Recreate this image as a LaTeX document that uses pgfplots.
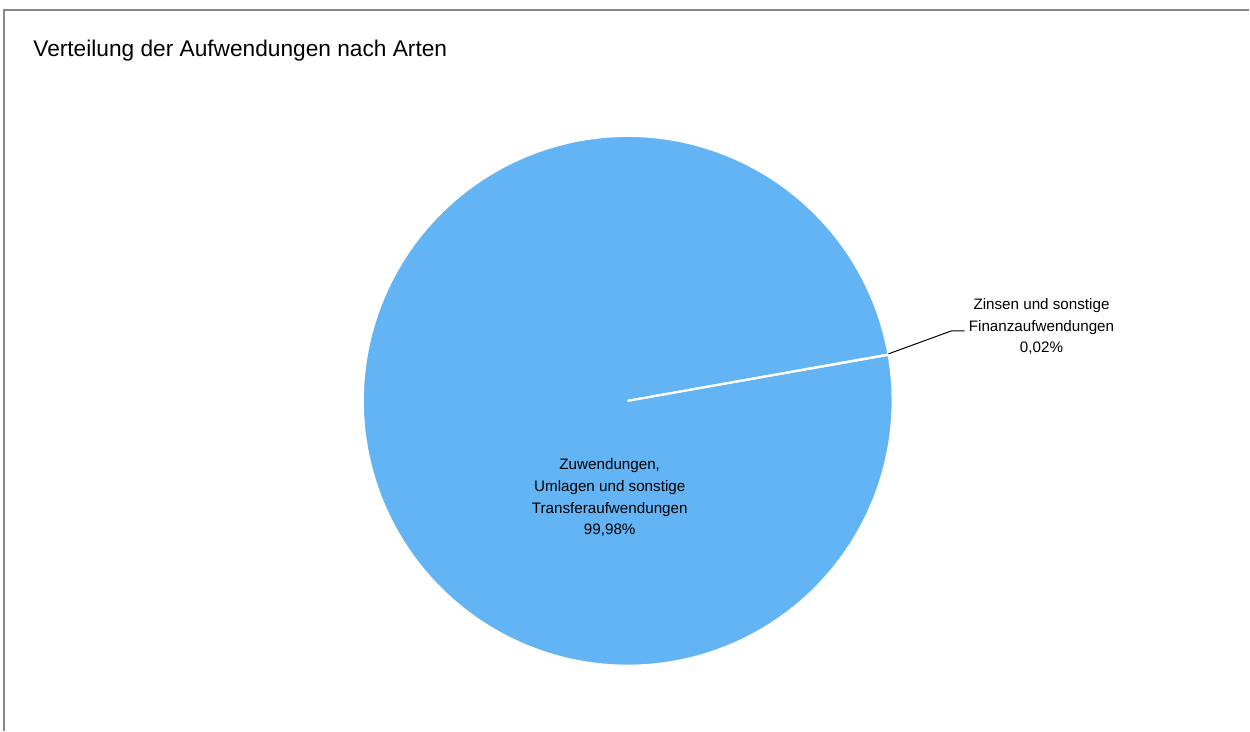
\documentclass[border=0pt]{standalone}
\usepackage{pgfplots}
\pgfplotsset{compat=1.18}
\usepackage{pgfplotstable}
\usepackage{fontspec}
\setmainfont{Liberation Sans}
\definecolor{pieblue}{HTML}{63B4F5}
\definecolor{framegray}{HTML}{888888}
\pgfplotstableread{
name value
Zuwendungen 99.98
Zinsen 0.02
}\piedata

\begin{document}
\begin{tikzpicture}
\pgfplotstablegetelem{0}{value}\of\piedata \let\va\pgfplotsretval
\pgfplotstablegetelem{1}{value}\of\piedata \let\vb\pgfplotsretval
\pgfmathsetmacro{\startA}{10}
\pgfmathsetmacro{\endB}{\startA+3.6*\vb}
\pgfmathsetmacro{\endA}{\endB+3.6*\va}
\begin{axis}[hide axis, scale only axis, width=625pt, height=365.5pt,
  xmin=0, xmax=1250, ymin=0, ymax=731, clip=false]
\path (0,0) rectangle (1250,731);
\addplot[fill=pieblue, draw=white, line width=1pt, domain=\endB:\endA, samples=360, variable=\t]
  ({628+265*cos(\t)},{330+265*sin(\t)}) -- (628,330) -- cycle;
\addplot[fill=pieblue, draw=white, line width=1pt, domain=\startA:\endB, samples=3, variable=\t]
  ({628+265*cos(\t)},{330+265*sin(\t)}) -- (628,330) -- cycle;
\draw[framegray, line width=0.6pt] (4,0) -- (4,721) -- (1250,721);
\draw[black, line width=0.5pt] (889,377) -- (952,400) -- (965,400);
\node[align=center, font=\fontsize{7.6}{10.8}\selectfont] at (1042,404) {Zinsen und sonstige\\Finanzaufwendungen\\0,02\%};
\node[align=center, font=\fontsize{7.6}{10.8}\selectfont] at (610,233) {Zuwendungen,\\Umlagen und sonstige\\Transferaufwendungen\\99,98\%};
\node[anchor=base west, inner sep=0pt, font=\fontsize{11.35}{13}\selectfont] at (33,674) {Verteilung der Aufwendungen nach Arten};
\end{axis}
\end{tikzpicture}
\end{document}
